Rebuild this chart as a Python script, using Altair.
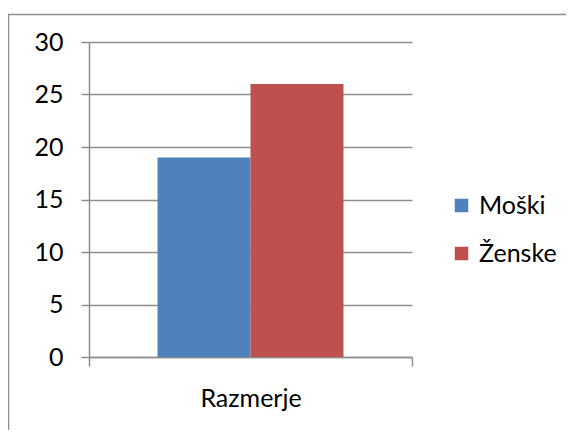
import altair as alt
import pandas as pd

categories = ["Razmerje"]
series = ["Moški", "Ženske"]
values = [19, 26]
colors = ["#4F81BD", "#C0504D"]
y_ticks = [0, 5, 10, 15, 20, 25, 30]

df = pd.DataFrame({
    "Kategorija": [categories[0]] * len(series),
    "Spol": series,
    "Vrednost": values,
})

FONT = "Lato"
GRAY = "#8E8E8E"
FS = 25

frame = alt.Chart(pd.DataFrame({"f": [0]})).mark_rect(
    fillOpacity=0, stroke=GRAY, strokeWidth=1.5, clip=False
).encode(
    x=alt.value(-80.5), x2=alt.value(700),
    y=alt.value(-27.5), y2=alt.value(600),
)

bars = alt.Chart(df).mark_bar().encode(
    x=alt.X(
        "Kategorija:N",
        scale=alt.Scale(paddingInner=0, paddingOuter=0),
        axis=alt.Axis(
            title=None, labelAngle=0, tickBand="extent", tickSize=9,
            labelPadding=20, labelFontSize=FS, labelFont=FONT, labelColor="#000000",
            domainColor=GRAY, domainWidth=1.5, tickColor=GRAY, tickWidth=1.5,
        ),
    ),
    xOffset=alt.XOffset(
        "Spol:N", sort=series,
        scale=alt.Scale(paddingInner=0, paddingOuter=0.737),
    ),
    y=alt.Y(
        "Vrednost:Q",
        scale=alt.Scale(domain=[0, 30], nice=False),
        axis=alt.Axis(
            title=None, values=y_ticks, tickSize=8, labelPadding=18,
            labelFontSize=FS, labelFont=FONT, labelColor="#000000",
            domainColor=GRAY, domainWidth=1.5, tickColor=GRAY, tickWidth=1.5,
            grid=True, gridColor=GRAY, gridWidth=1.5,
        ),
    ),
    color=alt.Color(
        "Spol:N",
        scale=alt.Scale(domain=series, range=colors),
        legend=alt.Legend(
            title=None, orient="none", legendX=360, legendY=151,
            symbolType="square", symbolSize=182, symbolStrokeWidth=0,
            labelFontSize=FS, labelFont=FONT, labelColor="#000000",
            labelOffset=5, rowPadding=22, padding=0,
        ),
    ),
)

chart = alt.layer(frame, bars).properties(
    width=323,
    height=315,
    autosize=alt.AutoSizeParams(type="none"),
    padding={"left": 81, "top": 34, "right": 154, "bottom": 73},
).configure_view(stroke=None)

chart.save("out.html", embed_options={"renderer": "svg", "actions": False})
